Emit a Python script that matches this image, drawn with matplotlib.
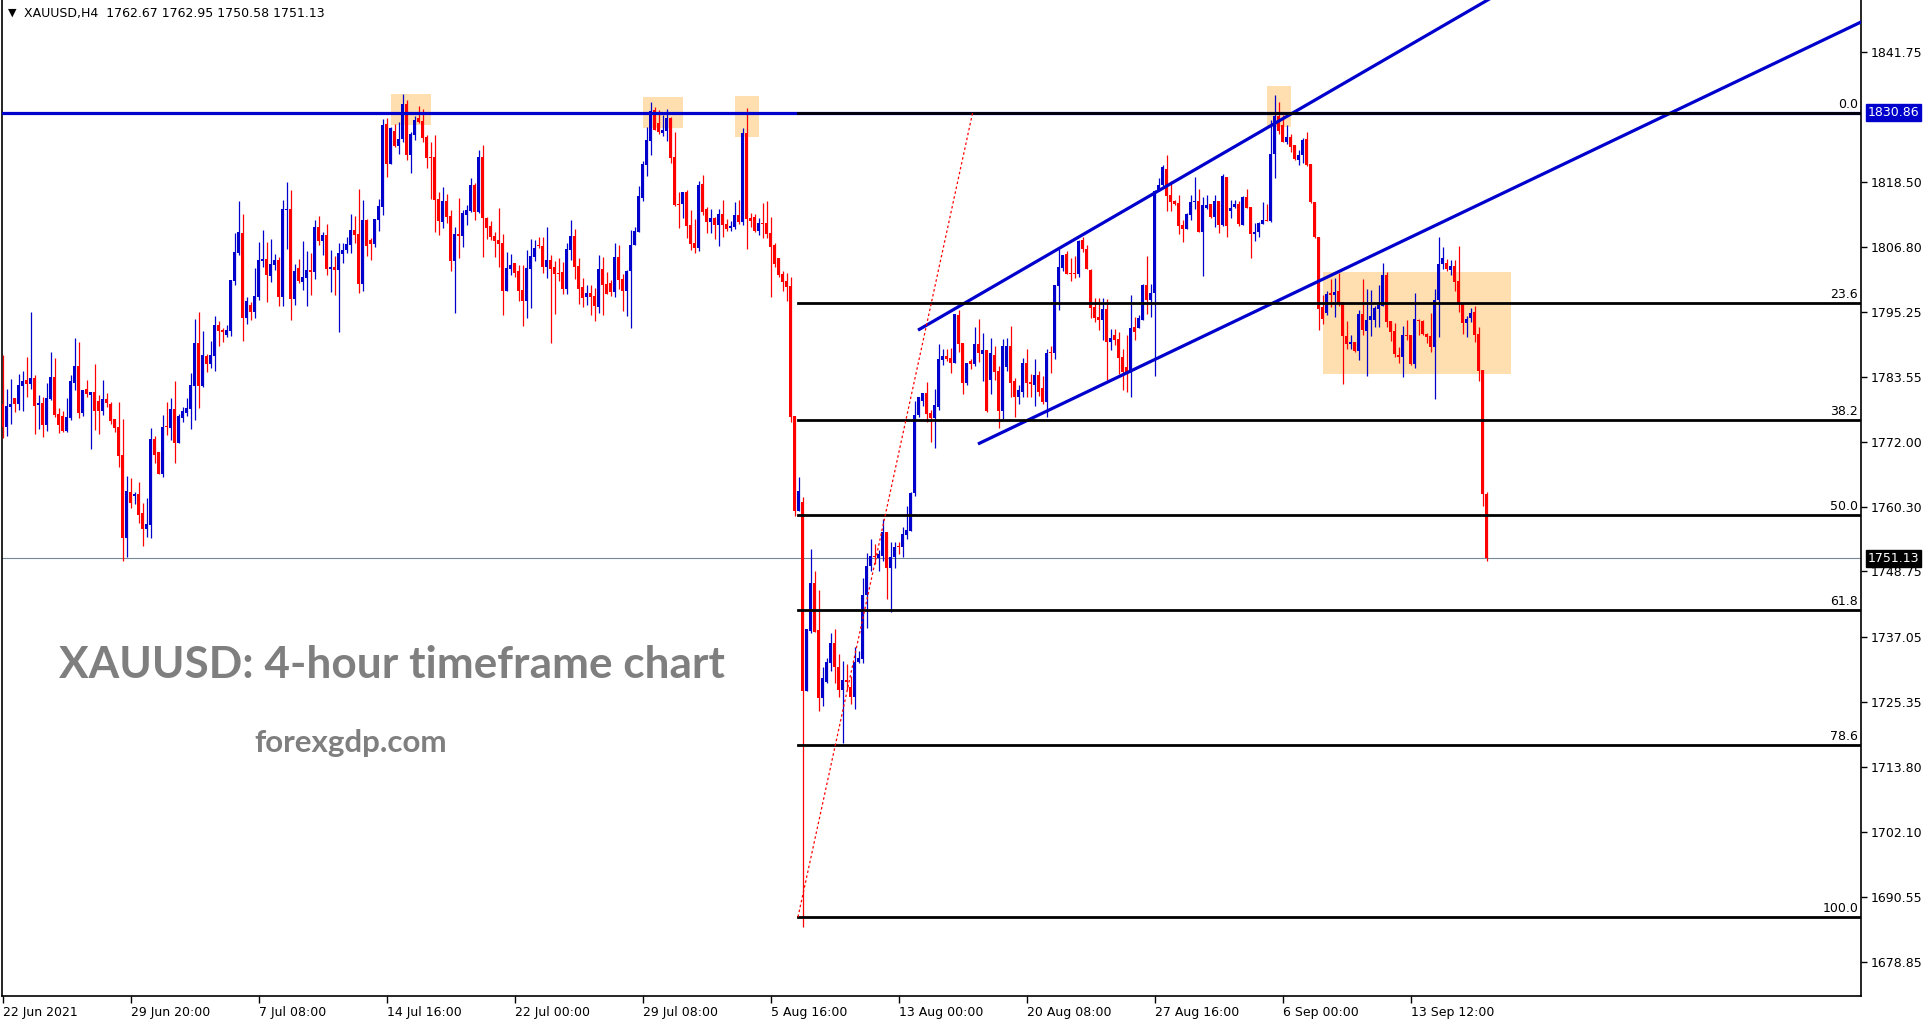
import matplotlib
matplotlib.use("Agg")
import matplotlib.pyplot as plt
import numpy as np

# XAUUSD H4 candles (bar 0 = 22 Jun 2021 00:00)
opens = [
    1778.73, 1774.68, 1778.26, 1779.75, 1778.73, 1782.01, 1783.03, 1782.31, 1783.39, 1778.61,
    1778.91, 1774.97, 1779.63, 1783.57, 1776.94, 1776.59, 1773.96, 1776.23, 1782.49, 1785.54,
    1777.12, 1781.42, 1780.34, 1780.88, 1779.27, 1777.48, 1779.63, 1778.73, 1776.05, 1774.62,
    1769.61, 1754.81, 1762.98, 1762.27, 1762.63, 1759.22, 1756.36, 1757.07, 1772.47, 1770.20,
    1766.26, 1774.80, 1774.44, 1777.84, 1771.75, 1776.23, 1777.12, 1777.84, 1781.96, 1789.65,
    1781.96, 1787.32, 1785.89, 1787.32, 1792.87, 1791.98, 1791.14, 1791.80, 1800.75, 1805.76,
    1809.34, 1794.19, 1796.45, 1795.26, 1797.89, 1804.39, 1804.69, 1801.71, 1803.61, 1804.51,
    1797.89, 1813.46, 1813.64, 1797.53, 1803.08, 1800.57, 1801.29, 1802.72, 1802.36, 1810.42,
    1807.91, 1808.99, 1802.90, 1803.26, 1802.72, 1805.59, 1806.30, 1807.20, 1809.88, 1809.17,
    1800.22, 1811.67, 1808.09, 1807.44, 1811.67, 1814.00, 1828.86, 1821.70, 1827.60, 1824.92,
    1826.17, 1832.44, 1823.31, 1826.89, 1829.93, 1829.39, 1826.53, 1822.95, 1822.95, 1815.43,
    1811.31, 1815.07, 1812.39, 1804.33, 1809.17, 1808.81, 1812.57, 1813.28, 1817.94, 1813.10,
    1822.95, 1812.03, 1810.60, 1808.81, 1808.09, 1807.56, 1798.96, 1802.90, 1803.98, 1802.54,
    1799.14, 1797.17, 1802.90, 1805.05, 1807.20, 1807.02, 1803.26, 1804.51, 1803.26, 1802.19,
    1802.36, 1799.32, 1806.30, 1808.81, 1803.44, 1799.68, 1797.89, 1798.61, 1798.07, 1796.10,
    1802.90, 1800.22, 1800.40, 1798.78, 1805.05, 1801.11, 1798.96, 1802.54, 1807.20, 1809.52,
    1815.61, 1821.52, 1825.81, 1831.36, 1829.04, 1827.25, 1827.60, 1829.93, 1822.95, 1814.54,
    1814.54, 1816.68, 1810.78, 1807.56, 1806.66, 1818.12, 1813.64, 1811.31, 1812.03, 1810.78,
    1812.75, 1810.96, 1810.24, 1810.42, 1812.57, 1811.31, 1827.25, 1812.03, 1812.21, 1809.70,
    1811.14, 1811.14, 1809.35, 1807.20, 1804.87, 1802.01, 1800.75, 1799.86, 1776.59, 1759.50,
    1761.20, 1727.30, 1738.10, 1746.60, 1738.20, 1726.10, 1728.90, 1732.30, 1735.90, 1731.60,
    1727.50, 1729.40, 1728.10, 1726.20, 1732.50, 1733.10, 1744.60, 1749.70, 1751.50, 1751.20,
    1751.60, 1755.90, 1749.40, 1751.40, 1753.30, 1753.10, 1755.20, 1756.00, 1762.80, 1776.77,
    1779.20, 1780.70, 1777.20, 1776.20, 1778.20, 1786.60, 1787.30, 1787.00, 1786.10, 1794.70,
    1789.60, 1782.50, 1786.40, 1785.90, 1789.50, 1787.70, 1788.40, 1783.00, 1787.50, 1784.60,
    1777.50, 1785.40, 1789.10, 1782.90, 1780.00, 1780.90, 1786.10, 1782.70, 1782.10, 1783.90,
    1781.60, 1779.10, 1788.00, 1787.90, 1799.90, 1803.10, 1805.60, 1802.20, 1802.20, 1802.00,
    1808.10, 1806.50, 1802.70, 1796.10, 1794.30, 1793.80, 1795.70, 1789.90, 1791.10, 1790.40,
    1787.20, 1785.40, 1784.22, 1792.52, 1792.34, 1793.77, 1800.03, 1797.35, 1798.60, 1816.86,
    1817.94, 1820.80, 1816.15, 1815.07, 1814.71, 1810.78, 1810.06, 1812.57, 1814.89, 1815.07,
    1809.52, 1813.88, 1814.53, 1812.21, 1815.07, 1810.78, 1819.37, 1813.28, 1814.00, 1814.53,
    1810.78, 1815.79, 1814.00, 1809.17, 1809.52, 1810.95, 1811.67, 1811.49, 1823.48, 1830.29,
    1828.68, 1825.63, 1826.53, 1825.10, 1822.41, 1823.30, 1826.17, 1821.69, 1814.89, 1808.63,
    1796.04, 1795.02, 1798.60, 1798.25, 1798.96, 1796.99, 1790.91, 1789.47, 1789.83, 1788.22,
    1794.84, 1791.80, 1793.77, 1793.77, 1795.74, 1796.28, 1801.83, 1793.59, 1791.80, 1787.51,
    1787.15, 1791.09, 1791.09, 1785.89, 1793.77, 1793.59, 1791.27, 1790.91, 1788.94, 1797.35,
    1803.79, 1803.97, 1802.72, 1803.44, 1800.75, 1796.81, 1793.23, 1794.13, 1795.20, 1791.27,
    1784.82, 1762.67]

highs = [
    1787.50, 1781.42, 1783.21, 1779.75, 1784.10, 1784.64, 1787.14, 1795.20, 1783.87, 1780.34,
    1779.99, 1782.55, 1788.04, 1786.97, 1778.02, 1777.48, 1779.81, 1783.92, 1790.55, 1789.83,
    1781.24, 1783.03, 1780.88, 1785.89, 1780.34, 1783.03, 1780.70, 1779.09, 1776.05, 1779.09,
    1776.05, 1765.85, 1765.49, 1762.98, 1764.77, 1761.01, 1761.90, 1774.50, 1773.07, 1770.20,
    1776.83, 1779.15, 1779.81, 1782.85, 1777.00, 1778.20, 1779.81, 1784.28, 1793.95, 1795.20,
    1791.80, 1787.68, 1790.01, 1794.49, 1793.59, 1792.34, 1792.87, 1800.93, 1809.40, 1815.07,
    1812.80, 1797.89, 1796.99, 1803.08, 1807.73, 1809.88, 1807.73, 1808.27, 1805.58, 1805.05,
    1815.25, 1818.47, 1817.04, 1803.79, 1804.69, 1807.91, 1806.12, 1805.77, 1811.67, 1812.39,
    1809.52, 1810.96, 1806.30, 1805.23, 1807.56, 1807.56, 1808.63, 1812.75, 1812.39, 1817.22,
    1815.25, 1811.85, 1808.45, 1811.85, 1815.43, 1829.75, 1829.93, 1828.32, 1828.86, 1829.21,
    1834.23, 1833.15, 1827.42, 1830.29, 1832.08, 1831.54, 1826.89, 1825.63, 1826.89, 1816.68,
    1817.58, 1816.33, 1813.46, 1810.42, 1815.61, 1813.46, 1814.36, 1819.19, 1818.30, 1824.20,
    1825.10, 1812.21, 1811.49, 1809.52, 1813.82, 1809.17, 1805.94, 1805.59, 1803.98, 1803.62,
    1803.62, 1806.30, 1808.27, 1808.09, 1808.63, 1808.63, 1810.42, 1805.41, 1804.33, 1804.87,
    1804.15, 1807.56, 1811.67, 1810.06, 1804.87, 1801.29, 1800.04, 1800.04, 1799.50, 1805.47,
    1805.05, 1802.36, 1800.93, 1807.56, 1807.20, 1802.01, 1802.78, 1809.88, 1810.42, 1817.76,
    1822.23, 1828.32, 1832.79, 1831.90, 1831.36, 1830.47, 1831.54, 1830.11, 1827.42, 1816.68,
    1816.68, 1817.04, 1813.46, 1811.85, 1818.65, 1819.73, 1814.00, 1813.64, 1812.21, 1813.64,
    1815.25, 1811.85, 1811.49, 1814.89, 1815.25, 1828.14, 1831.72, 1812.93, 1812.75, 1812.03,
    1814.72, 1815.07, 1812.21, 1807.56, 1804.87, 1802.54, 1802.19, 1801.47, 1776.59, 1765.70,
    1762.10, 1738.50, 1752.70, 1748.90, 1745.50, 1731.70, 1733.20, 1737.70, 1738.40, 1733.90,
    1732.80, 1732.10, 1730.10, 1735.30, 1734.60, 1747.50, 1752.10, 1754.50, 1753.60, 1752.60,
    1758.20, 1755.90, 1754.10, 1754.00, 1754.10, 1756.80, 1760.40, 1763.00, 1779.30, 1779.99,
    1780.70, 1782.70, 1777.70, 1781.40, 1789.50, 1788.60, 1788.60, 1788.80, 1794.80, 1795.60,
    1789.60, 1786.10, 1786.80, 1792.50, 1793.90, 1791.40, 1788.40, 1790.50, 1789.10, 1785.50,
    1790.40, 1790.50, 1792.70, 1783.40, 1782.10, 1787.00, 1788.60, 1784.10, 1786.80, 1784.60,
    1783.70, 1788.60, 1789.10, 1800.00, 1806.50, 1805.40, 1806.10, 1804.90, 1805.30, 1808.10,
    1808.60, 1807.20, 1802.90, 1797.70, 1797.70, 1797.70, 1797.50, 1792.20, 1792.20, 1791.60,
    1788.60, 1791.09, 1798.25, 1794.31, 1794.67, 1800.21, 1805.23, 1800.21, 1817.04, 1819.19,
    1821.52, 1823.30, 1818.65, 1815.25, 1816.15, 1811.67, 1812.92, 1816.15, 1819.37, 1817.22,
    1815.79, 1816.15, 1814.53, 1816.15, 1815.07, 1819.90, 1819.37, 1815.25, 1815.25, 1815.07,
    1815.97, 1817.22, 1814.00, 1811.13, 1811.31, 1814.89, 1814.53, 1829.57, 1834.05, 1832.79,
    1830.47, 1828.68, 1827.06, 1825.10, 1824.20, 1826.35, 1827.42, 1821.69, 1814.89, 1808.63,
    1798.25, 1798.96, 1801.11, 1801.29, 1802.18, 1796.99, 1793.59, 1791.09, 1789.83, 1795.56,
    1801.11, 1799.32, 1799.14, 1796.28, 1800.03, 1803.97, 1802.36, 1793.59, 1793.23, 1788.94,
    1792.70, 1793.77, 1791.09, 1798.60, 1793.95, 1793.77, 1791.44, 1795.02, 1799.32, 1808.63,
    1806.84, 1804.69, 1804.51, 1804.51, 1807.02, 1796.81, 1794.49, 1795.92, 1796.28, 1792.52,
    1784.82, 1762.95]

lows = [
    1772.59, 1773.07, 1775.15, 1777.36, 1777.66, 1777.48, 1780.04, 1781.42, 1773.36, 1774.26,
    1772.89, 1773.96, 1779.45, 1776.35, 1773.60, 1773.78, 1773.78, 1775.87, 1781.24, 1776.23,
    1776.65, 1780.04, 1770.74, 1774.08, 1773.36, 1776.76, 1778.26, 1775.15, 1773.78, 1767.52,
    1750.69, 1751.41, 1760.12, 1760.83, 1757.49, 1753.37, 1754.98, 1754.81, 1768.23, 1766.26,
    1765.73, 1773.13, 1772.35, 1768.23, 1771.75, 1775.51, 1776.65, 1774.32, 1775.93, 1778.02,
    1781.78, 1784.52, 1785.18, 1784.64, 1789.17, 1789.89, 1790.79, 1790.96, 1800.09, 1805.40,
    1790.07, 1793.11, 1793.83, 1794.19, 1797.35, 1803.32, 1797.05, 1800.63, 1802.72, 1796.33,
    1796.33, 1806.54, 1793.83, 1796.51, 1800.45, 1799.08, 1796.34, 1798.25, 1801.11, 1807.20,
    1805.41, 1801.83, 1798.78, 1798.25, 1791.68, 1803.98, 1805.77, 1805.77, 1807.56, 1798.61,
    1798.96, 1805.23, 1804.51, 1806.84, 1809.70, 1812.57, 1819.37, 1821.70, 1824.74, 1823.49,
    1825.63, 1822.41, 1820.09, 1825.99, 1829.04, 1825.63, 1820.98, 1815.43, 1809.52, 1808.99,
    1810.24, 1811.14, 1802.54, 1795.03, 1804.87, 1806.84, 1810.78, 1813.10, 1811.67, 1812.93,
    1805.05, 1808.27, 1808.09, 1805.05, 1803.26, 1794.67, 1798.96, 1801.83, 1801.47, 1797.17,
    1792.70, 1794.13, 1795.92, 1804.33, 1806.66, 1802.19, 1801.29, 1789.66, 1794.85, 1800.75,
    1798.43, 1798.43, 1804.51, 1801.11, 1796.64, 1796.10, 1796.46, 1794.67, 1793.59, 1795.03,
    1794.73, 1798.49, 1798.07, 1797.89, 1799.32, 1795.38, 1794.55, 1792.40, 1807.20, 1809.52,
    1815.07, 1819.55, 1823.31, 1827.78, 1827.07, 1826.71, 1825.81, 1821.88, 1814.18, 1810.24,
    1812.03, 1808.45, 1806.30, 1805.77, 1806.12, 1812.57, 1809.35, 1809.35, 1808.27, 1807.02,
    1808.63, 1809.70, 1809.70, 1809.99, 1810.96, 1810.78, 1806.48, 1810.42, 1809.52, 1808.99,
    1808.45, 1808.45, 1797.89, 1803.26, 1801.47, 1798.96, 1797.17, 1775.52, 1758.69, 1759.50,
    1685.10, 1727.30, 1737.80, 1737.90, 1723.80, 1724.60, 1728.80, 1730.90, 1728.80, 1726.20,
    1718.00, 1727.60, 1725.00, 1724.10, 1732.40, 1732.40, 1738.60, 1748.80, 1750.10, 1748.80,
    1750.60, 1743.80, 1741.50, 1749.40, 1751.90, 1751.40, 1754.50, 1756.00, 1762.20, 1776.47,
    1778.30, 1775.60, 1772.00, 1770.90, 1777.70, 1785.70, 1786.40, 1784.30, 1786.10, 1788.00,
    1780.50, 1782.10, 1785.00, 1785.50, 1786.30, 1782.80, 1777.30, 1780.50, 1783.00, 1774.40,
    1776.10, 1784.60, 1780.00, 1776.40, 1778.70, 1780.00, 1780.00, 1780.00, 1778.40, 1780.20,
    1778.70, 1776.40, 1784.30, 1786.80, 1795.60, 1802.50, 1802.00, 1800.70, 1801.30, 1801.50,
    1806.00, 1802.90, 1794.10, 1793.40, 1791.90, 1790.20, 1783.00, 1788.40, 1789.30, 1784.10,
    1781.20, 1780.94, 1780.05, 1790.19, 1792.34, 1793.77, 1794.85, 1794.31, 1783.81, 1816.86,
    1817.76, 1813.28, 1813.28, 1814.36, 1809.17, 1807.73, 1810.06, 1811.67, 1813.64, 1809.52,
    1801.71, 1813.64, 1812.03, 1810.42, 1809.34, 1810.60, 1808.63, 1812.03, 1813.82, 1810.60,
    1810.78, 1813.82, 1804.87, 1807.91, 1808.63, 1810.95, 1811.49, 1811.31, 1819.19, 1827.06,
    1825.63, 1825.27, 1823.84, 1822.41, 1821.52, 1821.87, 1821.34, 1814.71, 1808.45, 1791.98,
    1793.05, 1794.67, 1796.10, 1794.31, 1796.28, 1782.31, 1788.58, 1788.58, 1788.04, 1786.61,
    1791.09, 1783.75, 1790.91, 1792.52, 1792.52, 1796.28, 1792.52, 1790.01, 1787.15, 1786.07,
    1783.57, 1790.19, 1785.72, 1785.18, 1791.09, 1791.09, 1789.65, 1788.04, 1779.63, 1790.73,
    1802.90, 1802.54, 1801.83, 1798.96, 1795.20, 1791.27, 1790.73, 1793.41, 1789.83, 1782.85,
    1760.48, 1750.58]

closes = [
    1774.68, 1778.38, 1778.73, 1778.73, 1782.13, 1782.85, 1782.31, 1783.39, 1778.38, 1778.97,
    1774.97, 1779.81, 1783.57, 1776.76, 1774.97, 1773.96, 1776.41, 1782.85, 1785.54, 1777.12,
    1781.24, 1780.58, 1780.88, 1777.48, 1777.48, 1779.63, 1778.91, 1775.69, 1774.44, 1769.43,
    1754.81, 1763.16, 1761.01, 1762.63, 1758.87, 1756.36, 1757.25, 1772.47, 1769.61, 1766.26,
    1774.62, 1774.62, 1777.84, 1771.75, 1776.59, 1777.48, 1778.02, 1782.13, 1789.65, 1781.96,
    1787.50, 1785.89, 1787.50, 1792.87, 1791.80, 1791.68, 1791.98, 1800.93, 1805.94, 1809.52,
    1794.19, 1797.17, 1795.26, 1798.07, 1804.51, 1804.69, 1801.83, 1803.79, 1804.51, 1797.89,
    1813.64, 1813.64, 1797.53, 1802.60, 1800.69, 1801.41, 1802.72, 1802.36, 1810.42, 1807.91,
    1808.99, 1802.90, 1803.26, 1802.72, 1805.77, 1806.30, 1807.38, 1809.88, 1808.99, 1800.22,
    1811.67, 1807.02, 1807.44, 1811.85, 1814.18, 1828.68, 1821.70, 1828.14, 1824.92, 1826.17,
    1832.44, 1823.31, 1827.07, 1829.57, 1829.21, 1826.35, 1822.77, 1822.77, 1815.25, 1811.49,
    1815.07, 1812.21, 1804.33, 1809.17, 1808.81, 1812.93, 1813.46, 1817.94, 1813.10, 1822.95,
    1812.03, 1810.24, 1808.63, 1807.91, 1807.38, 1798.96, 1803.08, 1803.62, 1802.19, 1798.96,
    1797.17, 1803.08, 1805.23, 1806.66, 1807.02, 1803.26, 1804.51, 1802.90, 1802.01, 1802.01,
    1799.32, 1806.48, 1808.81, 1803.26, 1799.32, 1797.71, 1798.61, 1797.89, 1796.28, 1802.90,
    1800.04, 1798.49, 1798.78, 1805.05, 1800.93, 1798.96, 1802.54, 1807.20, 1809.70, 1815.97,
    1821.70, 1825.99, 1831.18, 1827.78, 1827.42, 1827.78, 1829.93, 1822.77, 1814.36, 1814.36,
    1816.68, 1810.60, 1807.38, 1806.66, 1817.94, 1813.10, 1811.31, 1812.03, 1810.78, 1812.75,
    1810.78, 1810.06, 1810.60, 1812.57, 1811.31, 1827.25, 1811.85, 1811.49, 1809.70, 1811.14,
    1810.96, 1809.17, 1806.84, 1803.80, 1801.83, 1800.57, 1799.68, 1776.41, 1759.58, 1763.20,
    1727.30, 1738.50, 1746.60, 1737.90, 1726.10, 1729.60, 1732.50, 1735.90, 1731.60, 1727.50,
    1729.40, 1728.90, 1726.20, 1732.60, 1733.20, 1744.60, 1749.80, 1751.60, 1751.30, 1751.90,
    1755.90, 1749.40, 1751.40, 1753.10, 1753.10, 1755.40, 1756.10, 1762.80, 1776.70, 1779.99,
    1780.70, 1777.00, 1776.20, 1778.60, 1786.80, 1787.30, 1786.80, 1786.10, 1794.80, 1789.50,
    1782.50, 1786.10, 1785.90, 1789.50, 1787.90, 1788.40, 1777.50, 1787.90, 1784.50, 1777.50,
    1789.10, 1789.10, 1782.50, 1780.00, 1781.20, 1786.10, 1782.50, 1782.30, 1783.90, 1780.90,
    1779.10, 1787.90, 1787.90, 1800.00, 1803.30, 1805.40, 1802.00, 1802.00, 1802.00, 1807.90,
    1806.40, 1802.90, 1795.90, 1794.10, 1793.80, 1795.70, 1789.90, 1790.50, 1790.20, 1787.00,
    1784.50, 1784.46, 1792.34, 1791.62, 1794.13, 1800.03, 1797.35, 1798.60, 1816.86, 1817.94,
    1821.16, 1815.97, 1814.89, 1814.53, 1810.60, 1810.06, 1812.75, 1814.89, 1815.07, 1809.52,
    1814.36, 1814.36, 1812.21, 1815.07, 1810.78, 1819.55, 1810.60, 1813.82, 1814.53, 1810.95,
    1815.79, 1813.82, 1809.17, 1809.52, 1811.13, 1811.67, 1811.49, 1823.48, 1830.29, 1827.60,
    1825.63, 1826.53, 1824.80, 1822.59, 1823.30, 1826.00, 1821.52, 1814.89, 1808.63, 1795.80,
    1793.95, 1798.43, 1798.25, 1798.78, 1796.81, 1790.91, 1789.47, 1789.83, 1788.22, 1794.84,
    1791.98, 1793.77, 1794.49, 1795.92, 1796.46, 1801.83, 1793.41, 1791.62, 1787.68, 1787.15,
    1791.09, 1790.91, 1785.89, 1793.95, 1793.59, 1791.27, 1790.73, 1788.94, 1797.35, 1803.79,
    1804.87, 1802.90, 1803.44, 1800.57, 1796.75, 1793.23, 1793.95, 1795.02, 1791.09, 1784.64,
    1762.63, 1751.13]

date_labels = ["22 Jun 2021", "29 Jun 20:00", "7 Jul 08:00", "14 Jul 16:00",
               "22 Jul 00:00", "29 Jul 08:00", "5 Aug 16:00", "13 Aug 00:00",
               "20 Aug 08:00", "27 Aug 16:00", "6 Sep 00:00", "13 Sep 12:00"]
bars_per_label = 32

price_ticks = [1841.75, 1818.50, 1806.80, 1795.25, 1783.55, 1772.00, 1760.30,
               1748.75, 1737.05, 1725.35, 1713.80, 1702.10, 1690.55, 1678.85]

resistance = 1830.86
last_price = 1751.13

# fibonacci retracement object (swing low -> swing high)
fib_high = 1830.86
fib_low = 1686.90
fib_levels = [0.0, 23.6, 38.2, 50.0, 61.8, 78.6, 100.0]
fib_start_bar = 198.75
fib_top_bar = 242.4

# channel trend lines (bar, price) pairs
upper_channel = ([229.1, 371.5], [1792.1, 1851.2])
lower_channel = ([244.1, 464.75], [1771.7, 1847.2])

# highlighted zones: bar from, bar to, price low, price high
zones = [(97, 107, 1828.74, 1834.23),
         (160, 170, 1828.14, 1833.69),
         (183, 189, 1826.53, 1833.87),
         (316, 322, 1828.38, 1835.66),
         (330, 377, 1784.16, 1802.42)]

BULL = "#0000CD"
BEAR = "#FF0000"

o = np.array(opens)
h = np.array(highs)
l = np.array(lows)
c = np.array(closes)
x = np.arange(len(o))
cols = np.where(c >= o, BULL, BEAR)

fig = plt.figure(figsize=(19.33, 10.23), dpi=100)
ax = fig.add_axes([2 / 1933, 27 / 1023, 1859 / 1933, 996 / 1023])

for b0, b1, p0, p1 in zones:
    ax.fill_between([b0, b1], p0, p1, color="#FFDFB0", lw=0, zorder=1)

ax.axhline(last_price, color="#778899", lw=0.8, zorder=1)

ax.vlines(x, l, h, colors=cols, lw=0.9, zorder=3)
body = np.maximum(np.abs(c - o), 0.2)
ax.bar(x, body, bottom=np.minimum(o, c), width=0.75, color=cols, lw=0, zorder=3)

ax.axhline(resistance, color=BULL, lw=2.3, zorder=4)

rng = fib_high - fib_low
for lev in fib_levels:
    p = fib_high - rng * lev / 100
    ax.plot([fib_start_bar, 470], [p, p], color="black", lw=2.0, zorder=5)
    ax.annotate("%.1f" % lev, xy=(1, p), xycoords=("axes fraction", "data"),
                xytext=(-2, 1.5), textcoords="offset points", ha="right", va="bottom",
                fontsize=9, color="black", zorder=6)
ax.plot([fib_start_bar, fib_top_bar], [fib_low, fib_high], color=BEAR,
        lw=0.9, ls=(0, (2, 2)), zorder=5)

ax.plot(*upper_channel, color=BULL, lw=2.3, zorder=4)
ax.plot(*lower_channel, color=BULL, lw=2.3, zorder=4)

ax.set_xlim(-0.25, 464.5)
ax.set_ylim(1672.75, 1851.06)

ax.set_xticks(np.arange(len(date_labels)) * bars_per_label)
ax.set_xticklabels(date_labels, ha="left", fontsize=9)
ax.yaxis.tick_right()
ax.set_yticks(price_ticks)
ax.set_yticklabels(["%.2f" % v for v in price_ticks], fontsize=9)
ax.tick_params(axis="x", length=5, width=1, pad=2)
ax.tick_params(axis="y", length=4, width=1, pad=3)
ax.spines["top"].set_visible(False)
for s in ["left", "right", "bottom"]:
    ax.spines[s].set_linewidth(1.2)

ax.annotate("%.2f" % resistance, xy=(1, resistance), xycoords=("axes fraction", "data"),
            xytext=(5, 0), textcoords="offset points", ha="left", va="center",
            fontsize=9, color="white",
            bbox=dict(boxstyle="square,pad=0.15", fc=BULL, ec=BULL), annotation_clip=False)
ax.annotate("%.2f" % last_price, xy=(1, last_price), xycoords=("axes fraction", "data"),
            xytext=(5, 0), textcoords="offset points", ha="left", va="center",
            fontsize=9, color="white",
            bbox=dict(boxstyle="square,pad=0.15", fc="black", ec="black"), annotation_clip=False)

fig.text(8 / 1933, 1 - 13 / 1023, "\u25BC", fontsize=8, va="center", ha="left")
fig.text(24 / 1933, 1 - 13 / 1023, "XAUUSD,H4  %.2f %.2f %.2f %.2f" % (o[-1], h[-1], l[-1], c[-1]),
         fontsize=9, va="center", ha="left")

ax.text(0.0307, 0.332, "XAUUSD: 4-hour timeframe chart", transform=ax.transAxes,
        family="Lato", weight="bold", fontsize=31.8, color="#7F7F7F", va="center", ha="left")
ax.text(0.136, 0.254, "forexgdp.com", transform=ax.transAxes,
        family="Lato", weight="bold", fontsize=22.6, color="#7F7F7F", va="center", ha="left")

fig.savefig("out.png", dpi=100)
